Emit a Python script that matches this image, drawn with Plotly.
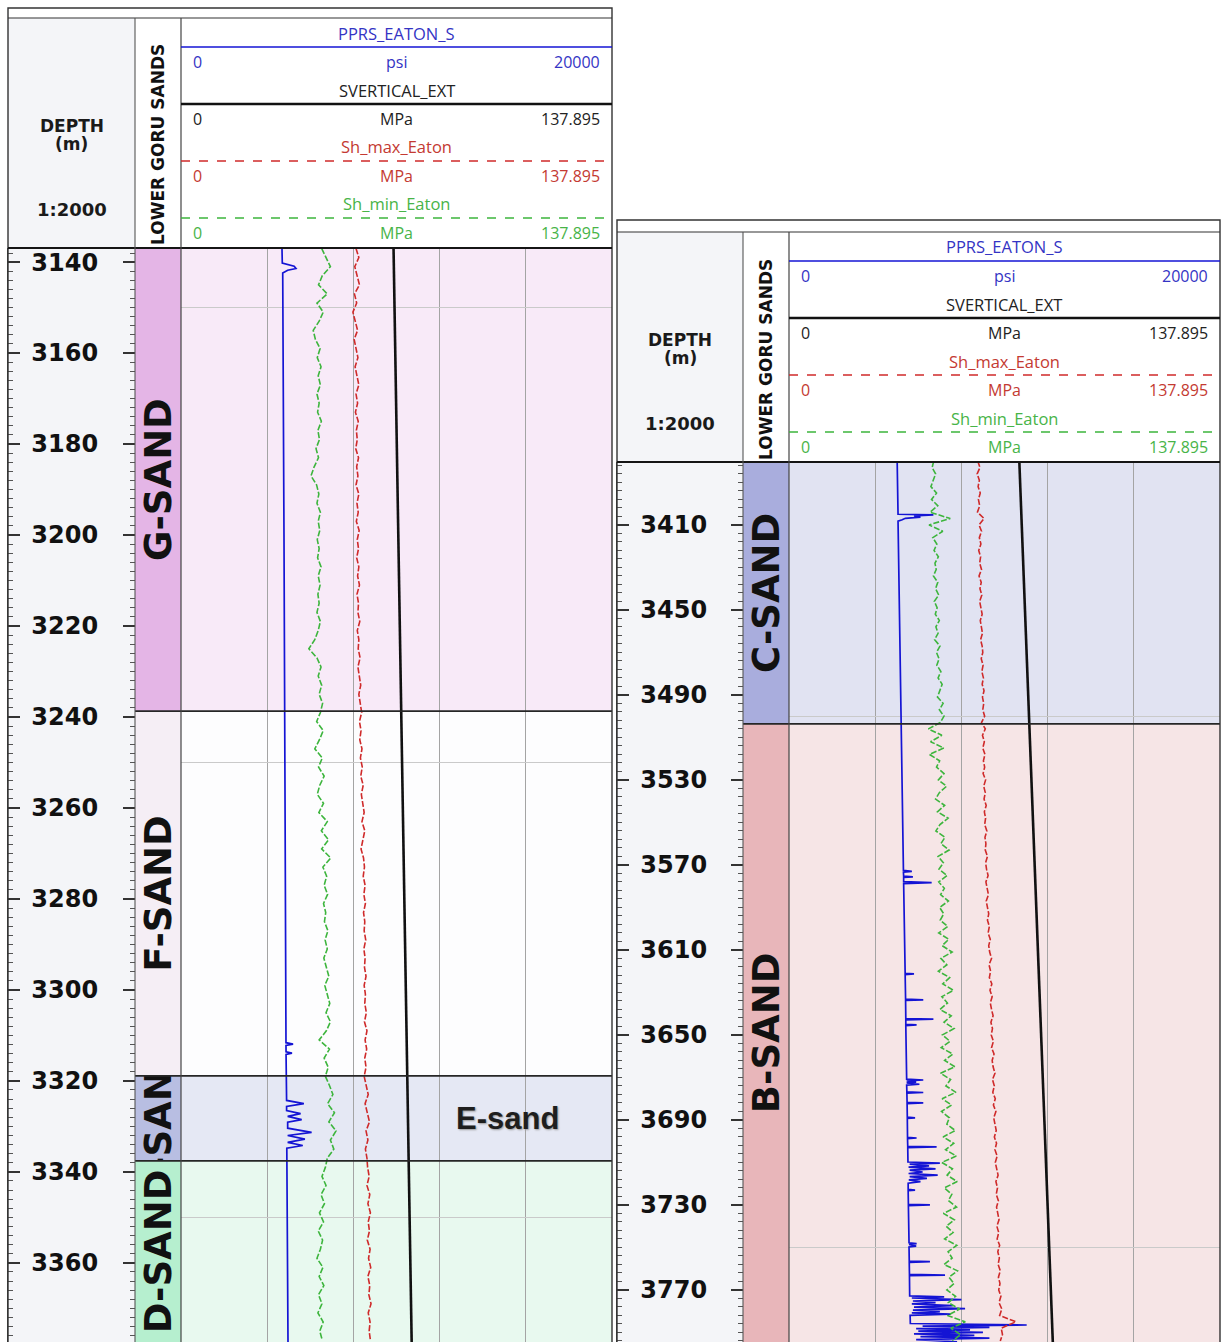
import plotly.graph_objects as go

W, H = 1225, 1342

# ---------------- upper interval (G to D sands) ----------------
L_DEPTH = list(range(3137, 3378, 2))
L_SHMIN_MPA = [
    45.0, 46.5, 47.8, 45.2, 44.0, 46.8, 43.5, 45.5, 44.2, 42.3, 43.0,
    44.5, 43.6, 44.8, 43.9, 44.6, 43.5, 44.2, 43.7, 44.9, 43.8, 44.3, 43.2, 44.0, 42.6, 41.6, 43.4, 44.1,
    43.5, 44.6, 43.9, 44.4, 43.6, 44.2, 43.7, 44.8, 43.9, 44.5, 43.8, 44.2, 43.5, 44.6, 43.9, 42.8, 40.9,
    43.5, 44.8, 43.9, 45.0, 44.2, 45.3, 44.6, 43.4, 45.5, 44.3, 42.8, 45.2, 44.0, 45.8, 44.4, 43.6,
    45.6, 44.1, 46.8, 44.9, 47.2, 45.0, 47.9,
    45.4, 46.6, 45.8, 46.9, 45.6, 46.3, 45.9, 47.0, 46.1, 46.8, 45.7, 46.5, 47.3, 46.0, 46.9, 47.6, 46.4, 47.8, 46.5,
    44.2, 47.5, 45.8, 47.1,
    46.2, 47.5, 48.6, 46.9, 49.1, 47.3, 49.6, 47.8, 48.9, 46.8,
    46.2, 45.1, 46.4, 44.8, 45.9, 44.3, 45.6, 43.9, 45.3, 44.6, 43.5, 45.4, 44.2, 45.7, 44.0, 45.1, 43.8, 45.5, 44.4, 45.2,
]
L_SHMAX_MPA = [
    56.0, 56.9, 55.6, 56.4, 57.1, 55.5, 56.2, 55.0, 55.8, 56.5, 55.4,
    55.9, 56.6, 55.7, 56.3, 56.9, 56.0, 56.5, 55.8, 56.7, 56.1, 56.4, 55.9, 56.8, 56.2, 56.6, 56.0, 56.9,
    56.3, 56.7, 56.1, 57.0, 56.4, 56.8, 56.2, 56.9, 56.5, 57.1, 56.3, 56.8, 56.6, 57.2, 56.4, 56.9, 56.7,
    57.3, 56.6, 57.0, 57.5, 56.9, 57.4, 57.8, 57.1, 57.6, 57.2, 57.9, 57.4, 58.0, 57.5, 58.3, 57.7,
    58.1, 58.6, 57.9, 58.8, 58.2, 57.6, 58.4,
    58.7, 58.3, 58.9, 58.5, 59.0, 58.4, 58.8, 58.6, 59.1, 58.5, 58.9, 58.7, 59.2, 58.6, 59.0, 58.8, 59.3, 58.7, 59.5,
    58.9, 59.4, 58.8, 59.2,
    58.6, 59.3, 59.9, 58.9, 59.6, 60.3, 59.2, 59.8, 59.0, 59.5,
    59.7, 60.2, 59.5, 60.4, 59.8, 60.6, 59.9, 60.3, 59.6, 60.5, 60.0, 60.7, 59.8, 60.4, 60.1, 60.8, 59.9, 60.5, 60.2, 60.6,
]
L_PP_DEPTH = [3136.9, 3140.2, 3140.9, 3141.4, 3141.8, 3142.4, 3200.0, 3257.0,
              3311.6, 3311.9, 3312.2, 3313.6, 3313.9, 3314.2,
              3324.3, 3325.0, 3325.6, 3326.5, 3327.2, 3327.8, 3328.5, 3329.1,
              3330.4, 3331.3, 3332.0, 3332.8, 3333.5, 3334.2, 3334.8, 3377.4]
L_PP_PSI = [4686, 4700, 5250, 5336, 4950, 4720, 4779, 4830,
            4872, 5200, 4872, 4875, 5150, 4875,
            4900, 5700, 4900, 4900, 5550, 4950, 5600, 4950,
            4950, 6060, 4950, 5750, 4950, 5650, 4910, 4965]
L_SV_DEPTH = [3136.9, 3200, 3260, 3320, 3377.4]
L_SV_MPA = [68.0, 69.5, 71.0, 72.4, 73.8]
L_ZONES = ["G-SAND", "F-SAND", "E-SAND", "D-SAND"]
L_ZONE_TOP = [3136.9, 3238.7, 3318.9, 3337.6]
L_ZONE_BASE = [3238.7, 3318.9, 3337.6, 3377.4]
L_DEPTH_LABELS = [3140, 3160, 3180, 3200, 3220, 3240, 3260, 3280, 3300, 3320, 3340, 3360]
L_GRID_DEPTHS = [3150, 3250, 3350]
L_NOTE = "E-sand"
L_NOTE_PSI = 15170
L_NOTE_DEPTH = 3328.3

# ---------------- lower interval (C and B sands) ----------------
R_DEPTH = list(range(3380, 3795, 3))
R_SHMIN_MPA = [
    46.3, 45.8, 46.9, 46.1, 45.4, 47.2, 45.6,
    47.6, 45.1, 51.6, 44.8, 49.2,
    46.0, 47.3, 46.4, 47.8, 46.7, 47.1, 46.2, 47.6, 46.9, 47.9, 46.5, 47.4, 46.8, 48.1, 47.0, 47.7, 46.6, 48.3, 47.2,
    48.0, 47.3, 48.6, 47.7, 49.0, 48.2, 47.5, 49.3, 48.1, 49.6, 48.4,
    44.6, 48.9, 45.3, 49.5, 44.9, 48.2,
    47.2, 49.6, 47.8, 50.4, 48.1, 46.9, 49.8, 47.5, 50.9, 48.3, 47.0, 49.9, 48.6, 51.2, 47.7, 49.4, 48.0, 50.6,
    47.9, 49.7, 48.5, 51.0, 48.2, 49.5,
    48.4, 50.8, 47.9, 51.1, 49.0, 52.2, 48.6, 50.5, 47.8, 51.4, 49.2, 52.6, 48.9, 50.7, 48.3, 51.9, 49.6, 52.8, 49.1,
    51.5, 48.7, 52.4, 49.8, 53.1, 48.5, 51.7, 50.2, 53.4, 49.0, 52.0, 48.8, 51.3, 50.5, 53.2,
    49.3, 52.7, 50.1, 53.5, 48.9, 52.3, 50.6, 53.8, 49.7, 52.1, 51.0, 53.6, 49.4, 52.9, 50.3,
    52.5, 49.8, 53.7, 50.9, 52.2, 49.6, 53.9, 51.2, 52.8, 50.5,
    53.3, 51.0, 54.6, 50.7, 56.4, 51.8, 54.9, 52.3,
]
R_SHMAX_MPA = [
    60.4, 61.1, 60.2, 60.9, 60.5, 61.2, 60.6,
    61.0, 60.3, 62.4, 60.8, 61.6,
    60.9, 61.4, 60.7, 61.3, 61.0, 61.6, 60.8, 61.5, 61.1, 61.7, 61.0, 61.4, 61.8, 61.2, 61.6, 61.9, 61.3, 61.8, 62.0,
    61.5, 62.1, 61.7, 62.2, 61.8, 62.4, 61.9, 62.3, 62.0, 62.6, 61.6,
    62.8, 61.9, 62.5, 62.0, 62.7, 62.2,
    62.6, 62.1, 62.9, 62.3, 62.8, 62.4, 63.1, 62.5, 62.9, 62.6, 63.3, 62.7, 63.0, 62.8, 63.5, 62.9, 63.2, 63.7,
    63.0, 63.4, 63.8, 63.1, 63.6, 63.9,
    63.5, 64.1, 63.7, 64.4, 63.9, 64.2, 64.8, 64.0, 64.5, 64.1, 64.9, 64.3, 65.0, 64.4, 64.8, 65.3, 64.6, 65.1, 64.7,
    65.4, 64.8, 65.6, 65.0, 65.3, 65.9, 65.1, 65.7, 65.2, 66.0, 65.4, 66.2, 65.5, 65.9, 66.3,
    65.7, 66.4, 65.9, 66.6, 66.0, 66.5, 66.9, 66.2, 66.7, 66.3, 67.0, 66.4, 66.8, 67.2, 66.5,
    67.1, 66.6, 67.4, 66.8, 67.3, 66.9, 67.6, 67.0, 67.5, 67.1,
    67.8, 67.2, 68.1, 67.4, 72.6, 67.9, 68.3, 67.6,
]
R_PP_DEPTH = [
    3380.4, 3405.0, 3405.3, 3405.8, 3406.3, 3406.9, 3407.6, 3408.2,
    3572.6, 3573.0, 3573.4, 3575.3, 3575.6, 3575.9, 3577.9, 3578.3, 3578.8,
    3621.0, 3621.3, 3621.6, 3633.2, 3633.5, 3633.8,
    3642.3, 3642.6, 3642.9, 3645.0, 3645.3, 3645.6,
    3670.8, 3671.2, 3671.6, 3672.2, 3672.6, 3673.2, 3673.6,
    3676.8, 3677.1, 3677.4, 3681.7, 3682.0, 3682.3, 3688.7, 3689.0, 3689.3,
    3698.2, 3698.5, 3698.8, 3702.4, 3702.7, 3703.0,
    3709.8, 3710.3, 3710.8, 3711.6, 3712.2, 3713.0, 3713.6, 3714.5, 3715.2, 3716.0, 3716.7, 3717.5, 3718.2, 3719.0, 3719.8,
    3722.7, 3723.0, 3723.3, 3729.7, 3730.0, 3730.3,
    3747.8, 3748.2, 3748.6, 3749.4, 3749.8, 3756.4, 3756.7, 3757.0, 3762.7, 3763.0, 3763.3,
    3772.8, 3773.3, 3773.8, 3774.6, 3775.2, 3776.0, 3776.6, 3777.4, 3778.1, 3778.8, 3779.5, 3780.2, 3780.8, 3781.4, 3782.0,
    3785.8, 3786.5, 3787.0, 3787.6, 3788.2, 3788.8, 3789.4, 3790.0, 3790.7, 3791.4, 3792.0, 3792.7, 3793.4, 3794.4,
]
R_PP_PSI = [
    5020, 5060, 6700, 5800, 6100, 5400, 5250, 5060,
    5310, 5700, 5310, 5320, 5750, 5320, 5320, 6620, 5320,
    5390, 5800, 5390, 5410, 6230, 5410,
    5420, 6700, 5420, 5420, 5920, 5420,
    5460, 6230, 5460, 5900, 5460, 6050, 5460,
    5470, 6230, 5470, 5480, 6230, 5480, 5490, 5850, 5490,
    5500, 5920, 5500, 5510, 6850, 5510,
    5520, 7000, 5600, 6500, 5550, 6800, 5600, 6200, 5550, 6900, 5600, 6400, 5560, 6100, 5530,
    5530, 5850, 5530, 5540, 6540, 5540,
    5570, 5920, 5570, 5900, 5570, 5580, 6540, 5580, 5590, 7240, 5590,
    5600, 7200, 5700, 8000, 5750, 6800, 5700, 7600, 5800, 8170, 5750, 7000, 5700, 7500, 5620,
    5630, 11030, 6200, 9300, 5900, 8400, 6000, 9000, 5800, 8600, 6100, 9300, 5900, 7800,
]
R_SV_DEPTH = [3380.4, 3500, 3592, 3700, 3794.5]
R_SV_MPA = [73.7, 76.8, 79.2, 81.9, 84.4]
R_ZONES = ["C-SAND", "B-SAND"]
R_ZONE_TOP = [3380.4, 3503.6]
R_ZONE_BASE = [3503.6, 3794.5]
R_DEPTH_LABELS = [3410, 3450, 3490, 3530, 3570, 3610, 3650, 3690, 3730, 3770]
R_GRID_DEPTHS = [3500, 3750]

# ---------------- curve header entries ----------------
CURVE_NAMES = ["PPRS_EATON_S", "SVERTICAL_EXT", "Sh_max_Eaton", "Sh_min_Eaton"]
CURVE_UNITS = ["psi", "MPa", "MPa", "MPa"]
CURVE_LEFT = ["0", "0", "0", "0"]
CURVE_RIGHT = ["20000", "137.895", "137.895", "137.895"]
PSI_RANGE = [0, 20000]
MPA_RANGE = [0, 137.895]

# ---------------- styling ----------------
LINE_COLORS = ["#1414d4", "#111111", "#cf2a2a", "#3db53d"]
TEXT_COLORS = ["#3434c4", "#222222", "#c43a32", "#48b448"]
LINE_DASH = ["solid", "solid", "dash", "dash"]
CURVE_DASH = "6px,2px"
ZONE_FILL = {
    "G-SAND": ("#e4b5e6", "#f8eaf8"),
    "F-SAND": ("#f5eef5", "#fdfdfe"),
    "E-SAND": ("#b8bee2", "#e5e8f4"),
    "D-SAND": ("#b6efcf", "#e8f9ef"),
    "C-SAND": ("#a9addd", "#e1e3f2"),
    "B-SAND": ("#e8b6ba", "#f6e5e6"),
}
BOLD_FONT = "DejaVu Sans"
HEAD_FONT = "Open Sans"

LEFT_PANEL = dict(x0=8, xd=135, xz=181, x1=612, yf=8, yh=18, yd=248, yb=1342,
                  top=3136.9, base=3377.4)
RIGHT_PANEL = dict(x0=617, xd=743, xz=789, x1=1220, yf=220, yh=232, yd=462, yb=1342,
                   top=3380.4, base=3794.5)

traces, shapes, annotations = [], [], []
axes_layout = {}
axis_count = [0]


def px_x(x):
    return x / W


def px_y(y):
    return 1 - y / H


def add_subplot(xspan, yspan, xrange, yrange):
    axis_count[0] += 1
    n = axis_count[0]
    s = "" if n == 1 else str(n)
    xref, yref = "x" + s, "y" + s
    axes_layout["xaxis" + s] = dict(domain=[px_x(xspan[0]), px_x(xspan[1])], range=xrange,
                                    anchor=yref, visible=False, fixedrange=True)
    axes_layout["yaxis" + s] = dict(domain=[px_y(yspan[1]), px_y(yspan[0])], range=yrange,
                                    anchor=xref, visible=False, fixedrange=True)
    traces.append(go.Scatter(x=[], y=[], xaxis=xref, yaxis=yref, showlegend=False,
                             hoverinfo="skip"))
    return xref, yref, "xaxis" + s, "yaxis" + s


def add_overlay_x(base_x, yref, xrange):
    axis_count[0] += 1
    s = str(axis_count[0])
    axes_layout["xaxis" + s] = dict(overlaying=base_x, range=xrange, anchor=yref,
                                    visible=False, fixedrange=True)
    return "x" + s


def hline(x0, x1, y, color, width, dash="solid"):
    shapes.append(dict(type="line", xref="paper", yref="paper", x0=px_x(x0), x1=px_x(x1),
                       y0=px_y(y), y1=px_y(y), line=dict(color=color, width=width, dash=dash),
                       layer="above"))


def vline(x, y0, y1, color, width):
    shapes.append(dict(type="line", xref="paper", yref="paper", x0=px_x(x), x1=px_x(x),
                       y0=px_y(y0), y1=px_y(y1), line=dict(color=color, width=width),
                       layer="above"))


def text(x, y, s, size, color, family=HEAD_FONT, bold=False, xanchor="center", angle=0):
    annotations.append(dict(xref="paper", yref="paper", x=px_x(x), y=px_y(y), text=s,
                            showarrow=False, xanchor=xanchor, yanchor="middle", textangle=angle,
                            font=dict(family=family, size=size, color=color,
                                      weight="bold" if bold else "normal")))


def build_panel(g, labels, minor_step, grid_depths, zones, ztop, zbase,
                pp_depth, pp_psi, sv_depth, sv_mpa, depth, shmin, shmax):
    top, base = g["top"], g["base"]

    def depth_px(d):
        return g["yd"] + (d - top) / (base - top) * (g["yb"] - g["yd"])

    # backgrounds of the panel and of the depth column
    shapes.append(dict(type="rect", xref="paper", yref="paper", x0=px_x(g["x0"]), x1=px_x(g["x1"]),
                       y0=px_y(g["yb"]), y1=px_y(g["yf"]), fillcolor="white",
                       line=dict(width=0), layer="below"))
    shapes.append(dict(type="rect", xref="paper", yref="paper", x0=px_x(g["x0"]), x1=px_x(g["xd"]),
                       y0=px_y(g["yb"]), y1=px_y(g["yh"]), fillcolor="#f4f5f8",
                       line=dict(width=0), layer="below"))

    # depth scale with ticks on both edges of the column
    _, _, _, ya = add_subplot((g["x0"], g["xd"]), (g["yd"], g["yb"]), [0, 1], [base, top])
    axes_layout[ya].update(
        visible=True, showline=True, linecolor="#3a3a3a", linewidth=1.2, mirror="ticks",
        ticks="inside", ticklen=12, tickwidth=1.6, tickcolor="#333333",
        tickmode="array", tickvals=labels, ticktext=[str(v) for v in labels],
        ticklabelposition="inside", ticklabelstandoff=13,
        tickfont=dict(family=BOLD_FONT, size=24, color="#111111", weight="bold"),
        showgrid=False, zeroline=False,
        minor=dict(ticks="inside", ticklen=5, tickwidth=1, tickcolor="#555555",
                   tick0=labels[0], dtick=minor_step, showgrid=False),
    )

    # zone column: one cell per sand unit, label clipped to its own interval
    for name, zt, zb in zip(zones, ztop, zbase):
        xr, yr, _, _ = add_subplot((g["xd"], g["xz"]), (depth_px(zt), depth_px(zb)), [0, 1], [zb, zt])
        traces.append(go.Bar(
            x=[0.5], y=[zb - zt], base=[zt], width=[1], xaxis=xr, yaxis=yr,
            marker=dict(color=ZONE_FILL[name][0], line=dict(width=0)),
            text=[name], textposition="inside", insidetextanchor="middle", textangle=-90,
            constraintext="none", cliponaxis=True,
            textfont=dict(family=BOLD_FONT, size=37, color="#111111", weight="bold"),
            hoverinfo="skip", showlegend=False,
        ))

    # curve track
    xr, yr, xa, ya = add_subplot((g["xz"], g["x1"]), (g["yd"], g["yb"]), PSI_RANGE, [base, top])
    axes_layout[xa].update(visible=True, showgrid=True, gridcolor="#a4a4a4", gridwidth=1,
                           tick0=0, dtick=4000, showticklabels=False, ticks="",
                           zeroline=False, showline=False)
    axes_layout[ya].update(visible=True, showgrid=True, gridcolor="#cacaca", gridwidth=1,
                           tickmode="array", tickvals=grid_depths, showticklabels=False,
                           ticks="", zeroline=False, showline=False)
    xm = add_overlay_x(xr, yr, MPA_RANGE)

    for name, zt, zb in zip(zones, ztop, zbase):
        shapes.append(dict(type="rect", xref=xr + " domain", yref=yr, x0=0, x1=1, y0=zt, y1=zb,
                           fillcolor=ZONE_FILL[name][1], line=dict(width=0), layer="below"))
    for zt in ztop[1:]:
        shapes.append(dict(type="line", xref="paper", yref=yr, x0=px_x(g["xd"]), x1=px_x(g["x1"]),
                           y0=zt, y1=zt, line=dict(color="#262626", width=1.8), layer="above"))

    traces.append(go.Scatter(x=sv_mpa, y=sv_depth, xaxis=xm, yaxis=yr, mode="lines",
                             line=dict(color=LINE_COLORS[1], width=2.6), hoverinfo="skip",
                             showlegend=False))
    traces.append(go.Scatter(x=shmin, y=depth, xaxis=xm, yaxis=yr, mode="lines",
                             line=dict(color=LINE_COLORS[3], width=1.6, dash=CURVE_DASH),
                             hoverinfo="skip", showlegend=False))
    traces.append(go.Scatter(x=shmax, y=depth, xaxis=xm, yaxis=yr, mode="lines",
                             line=dict(color=LINE_COLORS[2], width=1.6, dash=CURVE_DASH),
                             hoverinfo="skip", showlegend=False))
    traces.append(go.Scatter(x=pp_psi, y=pp_depth, xaxis=xr, yaxis=yr, mode="lines",
                             line=dict(color=LINE_COLORS[0], width=1.7), hoverinfo="skip",
                             showlegend=False))

    # frame and column rules
    shapes.append(dict(type="rect", xref="paper", yref="paper", x0=px_x(g["x0"]), x1=px_x(g["x1"]),
                       y0=px_y(g["yb"] + 2), y1=px_y(g["yf"]), fillcolor="rgba(0,0,0,0)",
                       line=dict(color="#333333", width=1.4), layer="above"))
    hline(g["x0"], g["x1"], g["yh"], "#333333", 1.2)
    hline(g["x0"], g["x1"], g["yd"], "#151515", 2.0)
    vline(g["xd"], g["yh"], g["yb"], "#555555", 1.1)
    vline(g["xz"], g["yh"], g["yb"], "#444444", 1.2)

    # depth column header
    cx = (g["x0"] + g["xd"]) / 2
    text(cx, g["yh"] + 108, "DEPTH", 17, "#1a1a1a", BOLD_FONT, True)
    text(cx, g["yh"] + 126, "(m)", 17, "#1a1a1a", BOLD_FONT, True)
    text(cx, g["yh"] + 191, "1:2000", 18, "#1a1a1a", BOLD_FONT, True)
    text((g["xd"] + g["xz"]) / 2, g["yh"] + 127, "LOWER GORU SANDS", 17, "#111111",
         BOLD_FONT, True, angle=-90)

    # curve headers
    tx = (g["xz"] + g["x1"]) / 2
    for i, name in enumerate(CURVE_NAMES):
        row = g["yh"] + 15 + 57 * i
        text(tx, row, name, 16.5, TEXT_COLORS[i])
        hline(g["xz"], g["x1"], row + 14, LINE_COLORS[i], 2.4 if i == 1 else 1.5, LINE_DASH[i])
        text(g["xz"] + 10, row + 29, CURVE_LEFT[i], 16, TEXT_COLORS[i], xanchor="left")
        text(tx, row + 29, CURVE_UNITS[i], 16, TEXT_COLORS[i])
        text(g["x1"] - 10, row + 29, CURVE_RIGHT[i], 16, TEXT_COLORS[i], xanchor="right")
    return xr, yr


lx, ly = build_panel(LEFT_PANEL, L_DEPTH_LABELS, 2, L_GRID_DEPTHS, L_ZONES, L_ZONE_TOP, L_ZONE_BASE,
                     L_PP_DEPTH, L_PP_PSI, L_SV_DEPTH, L_SV_MPA, L_DEPTH, L_SHMIN_MPA, L_SHMAX_MPA)
build_panel(RIGHT_PANEL, R_DEPTH_LABELS, 4, R_GRID_DEPTHS, R_ZONES, R_ZONE_TOP, R_ZONE_BASE,
            R_PP_DEPTH, R_PP_PSI, R_SV_DEPTH, R_SV_MPA, R_DEPTH, R_SHMIN_MPA, R_SHMAX_MPA)

# interval note inside the E sand track
annotations.append(dict(xref=lx, yref=ly, x=L_NOTE_PSI, y=L_NOTE_DEPTH, text=L_NOTE,
                        showarrow=False,
                        font=dict(family="Liberation Sans", size=31, color="#1e1e1e",
                                  weight="bold", shadow="1px 1px 2px #9a9a9a")))

fig = go.Figure(data=traces)
fig.update_layout(
    width=W, height=H, autosize=False,
    margin=dict(l=0, r=0, t=0, b=0),
    paper_bgcolor="white", plot_bgcolor="rgba(0,0,0,0)",
    showlegend=False, hovermode=False, barmode="overlay",
    shapes=shapes, annotations=annotations,
    **axes_layout,
)

fig.write_html("out.html", config={"displayModeBar": False})
